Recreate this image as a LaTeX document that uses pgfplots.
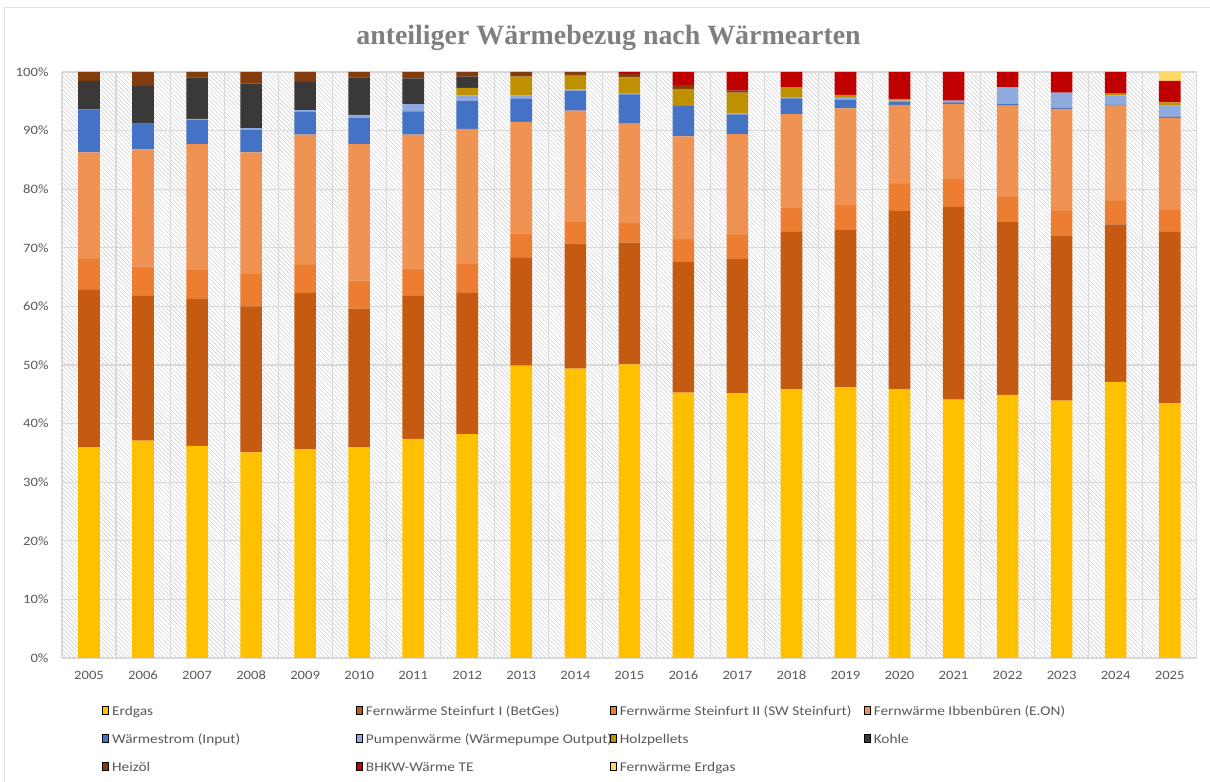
\documentclass[border=0pt]{standalone}
\usepackage{pgfplots}
\pgfplotsset{compat=1.18}
\usepackage{pgfplotstable}
\usetikzlibrary{patterns.meta}
\usepackage{fontspec}
\setmainfont{Carlito}[FakeStretch=1.15]
\newfontfamily\titlefont{Liberation Serif}

\definecolor{cE}{HTML}{FFC000}
\definecolor{cB}{HTML}{C55A11}
\definecolor{cS}{HTML}{ED7D31}
\definecolor{cI}{HTML}{F09252}
\definecolor{cW}{HTML}{4472C4}
\definecolor{cP}{HTML}{8FAADC}
\definecolor{cH}{HTML}{BF9000}
\definecolor{cK}{HTML}{3B3838}
\definecolor{cHz}{HTML}{843C0C}
\definecolor{cBH}{HTML}{C00000}
\definecolor{cFE}{HTML}{FFD966}
\definecolor{gridgray}{HTML}{D9D9D9}
\definecolor{tickgray}{HTML}{595959}
\definecolor{titlegray}{HTML}{7F7F7F}

\pgfplotstableread{
x  E     B     S     I      W     P     H     K    Hz   BH   FE
0  36.0  26.8  5.3   18.2   7.3   0     0     4.9  1.5  0    0
1  37.1  24.7  5.0   20.0   4.4   0     0     6.4  2.4  0    0
2  36.2  25.1  4.9   21.5   4.1   0.2   0     7.1  0.9  0    0
3  35.1  24.9  5.5   20.8   3.85  0.25  0     7.6  2.0  0    0
4  35.6  26.7  4.8   22.2   3.9   0.3   0     4.8  1.7  0    0
5  36.0  23.6  4.8   23.3   4.5   0.5   0     6.4  0.9  0    0
6  37.4  24.4  4.7   22.8   4.0   1.2   0     4.4  1.1  0    0
7  38.2  24.1  4.9   23.1   4.8   0.9   1.3   1.9  0.8  0    0
8  49.9  18.4  4.1   19.1   3.9   0.6   3.2   0    0.8  0    0
9  49.4  21.3  3.7   19.0   3.4   0.2   2.4   0    0.6  0    0
10 50.1  20.8  3.3   17.0   5.0   0.2   2.7   0    0.6  0.3  0
11 45.3  22.4  3.8   17.5   5.2   0     2.9   0    0.7  2.2  0
12 45.2  22.9  4.1   17.2   3.35  0.15  3.6   0    0.3  3.2  0
13 45.9  26.8  4.2   15.9   2.7   0.2   1.7   0    0    2.6  0
14 46.2  26.8  4.3   16.5   1.5   0.4   0.4   0    0    3.9  0
15 45.9  30.4  4.6   13.5   0.5   0.2   0.3   0    0    4.6  0
16 44.1  32.9  4.7   12.8   0.3   0.3   0     0    0    4.9  0
17 44.9  29.5  4.3   15.55  0.25  2.9   0     0    0    2.6  0
18 43.9  28.1  4.3   17.4   0.2   2.6   0     0    0    3.5  0
19 47.1  26.9  4.0   16.25  0.15  1.6   0.3   0    0    3.7  0
20 43.5  29.2  3.75  15.7   0.25  1.85  0.55  0    0    3.7  1.5
}\datatable

\pgfplotsset{/pgfplots/ybar legend/.style={/pgfplots/legend image code/.code={\fill[##1] (0bp,-0.5bp) rectangle (7.5bp,9.5bp);}}}

\begin{document}
\begin{tikzpicture}
\path[use as bounding box] (0,0) rectangle (1210bp,782bp);
\draw[draw=gray!25, line width=1bp] (4.3bp,0) -- (4.3bp,774.7bp) -- (1210bp,774.7bp);
\node[font=\titlefont\bfseries\fontsize{28}{32}\selectfont, text=titlegray] at (608.5bp,744bp) {anteiliger Wärmebezug nach Wärmearten};
\begin{axis}[
  at={(62bp,124bp)}, anchor=south west,
  scale only axis, width=1134.7bp, height=586bp,
  ybar stacked, bar width=0.4,
  xmin=-0.5, xmax=20.5, ymin=0, ymax=100,
  xtick={0,...,20},
  xticklabels={2005,2006,2007,2008,2009,2010,2011,2012,2013,2014,2015,2016,2017,2018,2019,2020,2021,2022,2023,2024,2025},
  minor xtick={-0.5,0.5,...,20.5},
  xminorgrids, ymajorgrids,
  ytick={0,10,...,100},
  yticklabel={\pgfmathprintnumber{\tick}\%},
  /pgf/number format/assume math mode=true,
  major tick length=0, minor tick length=0,
  axis line style={draw=none},
  major grid style={draw=gridgray, line width=1.1bp},
  minor grid style={draw=gridgray, line width=1.1bp},
  tick label style={font=\fontsize{12.8}{14}\selectfont, text=tickgray},
  xticklabel style={yshift=-9bp, text height=8.5bp, text depth=0pt},
  yticklabel style={xshift=-10bp},
  axis background/.style={pattern={Lines[angle=-45,distance=3bp,line width=0.6bp]}, pattern color=black!18},
  legend columns=4,
  legend cell align=left,
  legend style={at={(axis description cs:0.0353,-0.0819)}, anchor=north west,
    draw=none, fill=none, inner sep=0pt,
    font=\fontsize{13.4}{15}\selectfont,
    nodes={inner sep=0pt, text height=9.5bp, text depth=3bp, text=tickgray},
    /tikz/row sep=15.5bp,
    /tikz/every odd column/.append style={column sep=3.5bp},
    /tikz/every even column/.append style={column sep=0pt}},
  every axis plot/.append style={draw=none},
]
\addplot[fill=cE]  table[x=x,y=E]  {\datatable}; \addlegendentry{\makebox[244bp][l]{Erdgas}}
\addplot[fill=cB]  table[x=x,y=B]  {\datatable}; \addlegendentry{\makebox[244bp][l]{Fernwärme Steinfurt I (BetGes)}}
\addplot[fill=cS]  table[x=x,y=S]  {\datatable}; \addlegendentry{\makebox[244bp][l]{Fernwärme Steinfurt II (SW Steinfurt)}}
\addplot[fill=cI]  table[x=x,y=I]  {\datatable}; \addlegendentry{\makebox[244bp][l]{Fernwärme Ibbenbüren (E.ON)}}
\addplot[fill=cW]  table[x=x,y=W]  {\datatable}; \addlegendentry{\makebox[244bp][l]{Wärmestrom (Input)}}
\addplot[fill=cP]  table[x=x,y=P]  {\datatable}; \addlegendentry{\makebox[244bp][l]{Pumpenwärme (Wärmepumpe Output)}}
\addplot[fill=cH]  table[x=x,y=H]  {\datatable}; \addlegendentry{\makebox[244bp][l]{Holzpellets}}
\addplot[fill=cK]  table[x=x,y=K]  {\datatable}; \addlegendentry{\makebox[244bp][l]{Kohle}}
\addplot[fill=cHz] table[x=x,y=Hz] {\datatable}; \addlegendentry{\makebox[244bp][l]{Heizöl}}
\addplot[fill=cBH] table[x=x,y=BH] {\datatable}; \addlegendentry{\makebox[244bp][l]{BHKW-Wärme TE}}
\addplot[fill=cFE] table[x=x,y=FE] {\datatable}; \addlegendentry{\makebox[244bp][l]{Fernwärme Erdgas}}
\end{axis}
\end{tikzpicture}
\end{document}
